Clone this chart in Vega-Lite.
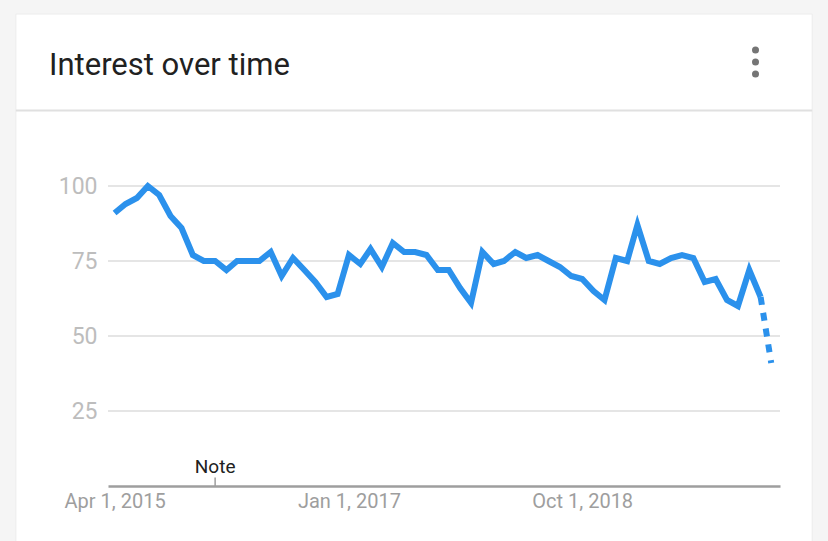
{
  "$schema": "https://vega.github.io/schema/vega-lite/v6.json",
  "autosize": "none",
  "width": 672,
  "height": 300,
  "padding": {"left": 108, "top": 186, "right": 48, "bottom": 55},
  "background": "#f5f5f5",
  "title": {
    "text": "Interest over time",
    "anchor": "start",
    "frame": "group",
    "dx": -59,
    "dy": 92,
    "offset": 0,
    "baseline": "alphabetic",
    "font": "Roboto",
    "fontSize": 31,
    "fontWeight": "normal",
    "color": "#212121"
  },
  "config": {
    "view": {"stroke": null},
    "font": "Roboto"
  },
  "datasets": {
    "trend": [
      {"month": "2015-04-01", "interest": 91, "seg": "full"},
      {"month": "2015-05-01", "interest": 94, "seg": "full"},
      {"month": "2015-06-01", "interest": 96, "seg": "full"},
      {"month": "2015-07-01", "interest": 100, "seg": "full"},
      {"month": "2015-08-01", "interest": 97, "seg": "full"},
      {"month": "2015-09-01", "interest": 90, "seg": "full"},
      {"month": "2015-10-01", "interest": 86, "seg": "full"},
      {"month": "2015-11-01", "interest": 77, "seg": "full"},
      {"month": "2015-12-01", "interest": 75, "seg": "full"},
      {"month": "2016-01-01", "interest": 75, "seg": "full"},
      {"month": "2016-02-01", "interest": 72, "seg": "full"},
      {"month": "2016-03-01", "interest": 75, "seg": "full"},
      {"month": "2016-04-01", "interest": 75, "seg": "full"},
      {"month": "2016-05-01", "interest": 75, "seg": "full"},
      {"month": "2016-06-01", "interest": 78, "seg": "full"},
      {"month": "2016-07-01", "interest": 70, "seg": "full"},
      {"month": "2016-08-01", "interest": 76, "seg": "full"},
      {"month": "2016-09-01", "interest": 72, "seg": "full"},
      {"month": "2016-10-01", "interest": 68, "seg": "full"},
      {"month": "2016-11-01", "interest": 63, "seg": "full"},
      {"month": "2016-12-01", "interest": 64, "seg": "full"},
      {"month": "2017-01-01", "interest": 77, "seg": "full"},
      {"month": "2017-02-01", "interest": 74, "seg": "full"},
      {"month": "2017-03-01", "interest": 79, "seg": "full"},
      {"month": "2017-04-01", "interest": 73, "seg": "full"},
      {"month": "2017-05-01", "interest": 81, "seg": "full"},
      {"month": "2017-06-01", "interest": 78, "seg": "full"},
      {"month": "2017-07-01", "interest": 78, "seg": "full"},
      {"month": "2017-08-01", "interest": 77, "seg": "full"},
      {"month": "2017-09-01", "interest": 72, "seg": "full"},
      {"month": "2017-10-01", "interest": 72, "seg": "full"},
      {"month": "2017-11-01", "interest": 66, "seg": "full"},
      {"month": "2017-12-01", "interest": 61, "seg": "full"},
      {"month": "2018-01-01", "interest": 78, "seg": "full"},
      {"month": "2018-02-01", "interest": 74, "seg": "full"},
      {"month": "2018-03-01", "interest": 75, "seg": "full"},
      {"month": "2018-04-01", "interest": 78, "seg": "full"},
      {"month": "2018-05-01", "interest": 76, "seg": "full"},
      {"month": "2018-06-01", "interest": 77, "seg": "full"},
      {"month": "2018-07-01", "interest": 75, "seg": "full"},
      {"month": "2018-08-01", "interest": 73, "seg": "full"},
      {"month": "2018-09-01", "interest": 70, "seg": "full"},
      {"month": "2018-10-01", "interest": 69, "seg": "full"},
      {"month": "2018-11-01", "interest": 65, "seg": "full"},
      {"month": "2018-12-01", "interest": 62, "seg": "full"},
      {"month": "2019-01-01", "interest": 76, "seg": "full"},
      {"month": "2019-02-01", "interest": 75, "seg": "full"},
      {"month": "2019-03-01", "interest": 87, "seg": "full"},
      {"month": "2019-04-01", "interest": 75, "seg": "full"},
      {"month": "2019-05-01", "interest": 74, "seg": "full"},
      {"month": "2019-06-01", "interest": 76, "seg": "full"},
      {"month": "2019-07-01", "interest": 77, "seg": "full"},
      {"month": "2019-08-01", "interest": 76, "seg": "full"},
      {"month": "2019-09-01", "interest": 68, "seg": "full"},
      {"month": "2019-10-01", "interest": 69, "seg": "full"},
      {"month": "2019-11-01", "interest": 62, "seg": "full"},
      {"month": "2019-12-01", "interest": 60, "seg": "full"},
      {"month": "2020-01-01", "interest": 72, "seg": "full"},
      {"month": "2020-02-01", "interest": 63, "seg": "full"},
      {"month": "2020-02-01", "interest": 63, "seg": "partial"},
      {"month": "2020-03-01", "interest": 41, "seg": "partial"}
    ],
    "notes": [
      {"month": "2016-01-01", "label": "Note"}
    ]
  },
  "encoding": {
    "y": {
      "type": "quantitative",
      "title": null,
      "scale": {"domain": [0, 100], "nice": false, "zero": true},
      "axis": {
        "values": [25, 50, 75, 100],
        "domain": false,
        "ticks": false,
        "tickSize": 0,
        "zindex": 1,
        "grid": false,
        "labelFont": "Roboto",
        "labelFontSize": 23,
        "labelColor": "#bdbdbd",
        "labelPadding": 11
      }
    }
  },
  "layer": [
    {
      "data": {"name": "notes"},
      "mark": {"type": "rect", "color": "white", "stroke": "#ececec", "strokeWidth": 1, "clip": false},
      "encoding": {
        "x": {
          "datum": {"year": 2014, "month": 7, "date": 5, "utc": true},
          "type": "temporal",
          "title": null,
          "scale": {
            "type": "utc",
            "domain": [
              {"year": 2015, "month": 3, "date": 14, "utc": true},
              {"year": 2020, "month": 3, "date": 25, "utc": true}
            ]
          },
          "axis": {
            "title": null,
            "values": [
              {"year": 2015, "month": 4, "date": 1, "utc": true},
              {"year": 2017, "month": 1, "date": 1, "utc": true},
              {"year": 2018, "month": 10, "date": 1, "utc": true}
            ],
            "labelExpr": "utcFormat(datum.value, '%b %-d, %Y')",
            "grid": false,
            "ticks": false,
            "tickSize": 0,
            "zindex": 1,
            "domainColor": "#9e9e9e",
            "domainWidth": 2.5,
            "labelFont": "Roboto",
            "labelFontSize": 20,
            "labelColor": "#9e9e9e",
            "labelPadding": 5,
            "labelFlush": false,
            "labelOverlap": false
          }
        },
        "x2": {"datum": {"year": 2020, "month": 6, "date": 21, "utc": true}},
        "y": {"datum": 157.33, "type": "quantitative"},
        "y2": {"datum": -25}
      }
    },
    {
      "data": {"name": "notes"},
      "mark": {"type": "rule", "color": "#dddddd", "strokeWidth": 1.5},
      "encoding": {"y": {"datum": 25, "type": "quantitative"}}
    },
    {
      "data": {"name": "notes"},
      "mark": {"type": "rule", "color": "#dddddd", "strokeWidth": 1.5},
      "encoding": {"y": {"datum": 50, "type": "quantitative"}}
    },
    {
      "data": {"name": "notes"},
      "mark": {"type": "rule", "color": "#dddddd", "strokeWidth": 1.5},
      "encoding": {"y": {"datum": 75, "type": "quantitative"}}
    },
    {
      "data": {"name": "notes"},
      "mark": {"type": "rule", "color": "#dddddd", "strokeWidth": 1.5},
      "encoding": {"y": {"datum": 100, "type": "quantitative"}}
    },
    {
      "data": {"name": "trend"},
      "transform": [{"filter": "datum.seg == 'full'"}],
      "mark": {"type": "line", "color": "#2b91ec", "strokeWidth": 6, "strokeJoin": "miter"},
      "encoding": {
        "x": {"field": "month", "type": "temporal", "title": null},
        "y": {"field": "interest", "type": "quantitative"}
      }
    },
    {
      "data": {"name": "trend"},
      "transform": [{"filter": "datum.seg == 'partial'"}],
      "mark": {"type": "line", "color": "#2b91ec", "strokeWidth": 6, "strokeDash": [8, 8], "strokeCap": "butt"},
      "encoding": {
        "x": {"field": "month", "type": "temporal", "title": null},
        "y": {"field": "interest", "type": "quantitative"}
      }
    },
    {
      "data": {"name": "notes"},
      "mark": {"type": "rule", "color": "#9e9e9e", "strokeWidth": 1.5},
      "encoding": {
        "x": {"field": "month", "type": "temporal", "title": null},
        "y": {"datum": 0, "type": "quantitative"},
        "y2": {"datum": 2.8}
      }
    },
    {
      "data": {"name": "notes"},
      "mark": {"type": "text", "font": "Roboto", "fontSize": 19, "color": "#212121", "align": "center", "baseline": "alphabetic", "dy": -13},
      "encoding": {
        "x": {"field": "month", "type": "temporal", "title": null},
        "y": {"datum": 0, "type": "quantitative"},
        "text": {"field": "label"}
      }
    },
    {
      "data": {"name": "notes"},
      "mark": {"type": "rule", "color": "#e0e0e0", "strokeWidth": 2, "clip": false},
      "encoding": {
        "x": {"datum": {"year": 2014, "month": 7, "date": 5, "utc": true}, "type": "temporal", "title": null},
        "x2": {"datum": {"year": 2020, "month": 6, "date": 21, "utc": true}},
        "y": {"datum": 125.17, "type": "quantitative"}
      }
    },
    {
      "data": {"name": "notes"},
      "mark": {"type": "point", "shape": "circle", "filled": true, "color": "#757575", "size": 49, "opacity": 1, "clip": false},
      "encoding": {
        "x": {"datum": {"year": 2020, "month": 1, "date": 18, "utc": true}, "type": "temporal", "title": null},
        "y": {"datum": 145.33, "type": "quantitative"}
      }
    },
    {
      "data": {"name": "notes"},
      "mark": {"type": "point", "shape": "circle", "filled": true, "color": "#757575", "size": 49, "opacity": 1, "clip": false},
      "encoding": {
        "x": {"datum": {"year": 2020, "month": 1, "date": 18, "utc": true}, "type": "temporal", "title": null},
        "y": {"datum": 141.33, "type": "quantitative"}
      }
    },
    {
      "data": {"name": "notes"},
      "mark": {"type": "point", "shape": "circle", "filled": true, "color": "#757575", "size": 49, "opacity": 1, "clip": false},
      "encoding": {
        "x": {"datum": {"year": 2020, "month": 1, "date": 18, "utc": true}, "type": "temporal", "title": null},
        "y": {"datum": 137.33, "type": "quantitative"}
      }
    }
  ]
}
